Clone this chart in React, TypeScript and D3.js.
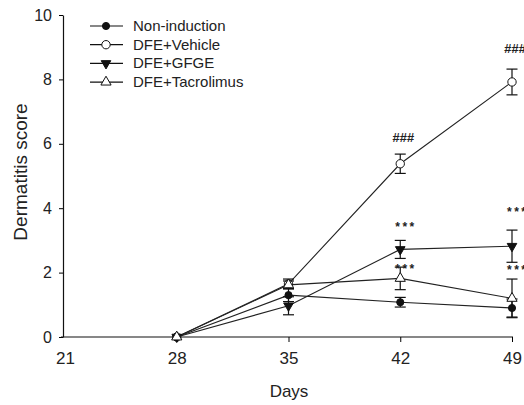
import { useRef, useEffect } from "react";
import * as d3 from "d3";

const days = [28, 35, 42, 49];
const seriesNames = ["Non-induction", "DFE+Vehicle", "DFE+GFGE", "DFE+Tacrolimus"];
const nonInduction = [0, 1.3, 1.08, 0.9];
const nonInductionErr = [0, 0.2, 0.15, 0.28];
const vehicle = [0, 1.65, 5.38, 7.92];
const vehicleErr = [0, 0.15, 0.3, 0.4];
const gfge = [0, 0.97, 2.72, 2.82];
const gfgeErr = [0, 0.28, 0.28, 0.5];
const tacrolimus = [0, 1.62, 1.82, 1.2];
const tacrolimusErr = [0, 0.12, 0.35, 0.6];
const xTicks = [21, 28, 35, 42, 49];
const yTicks = [0, 2, 4, 6, 8, 10];
const marks = [
  { day: 42, y: 6.05, text: "###" },
  { day: 49, y: 8.82, text: "###" },
  { day: 42, y: 3.3, text: "***" },
  { day: 49, y: 3.75, text: "***" },
  { day: 42, y: 2.0, text: "***" },
  { day: 49, y: 1.95, text: "***" },
];

export default function App() {
  const svgRef = useRef<SVGSVGElement | null>(null);

  useEffect(() => {
    const svg = d3.select(svgRef.current);
    svg.selectAll("*").remove();
    const font = "'Liberation Sans', Arial, sans-serif";

    const x = d3.scaleLinear().domain([21, 49]).range([65, 512]);
    const y = d3.scaleLinear().domain([0, 10]).range([337, 15]);

    const g = svg.append("g");

    // axes
    const yAxis = g.append("g").attr("transform", "translate(63,0)").call(
      d3.axisLeft(y).tickValues(yTicks).tickSize(4).tickSizeOuter(0)
    );
    yAxis.selectAll("text").attr("font-size", 16).attr("font-family", font).attr("fill", "#222").attr("dx", -4);
    const xAxis = g.append("g").attr("transform", "translate(0,337)").call(
      d3.axisBottom(x).tickValues(xTicks).tickSize(5).tickSizeOuter(0)
    );
    xAxis.selectAll("text").attr("font-size", 17).attr("font-family", font).attr("fill", "#222").attr("dy", 19);
    xAxis.selectAll(".tick").filter((d: any) => d === 21).select("line").remove();
    xAxis.select(".domain").attr("d", "M61,0H513");
    g.selectAll(".domain").attr("stroke", "#111").attr("stroke-width", 1.2);

    const series = [
      { name: seriesNames[0], vals: nonInduction, err: nonInductionErr, shape: d3.symbolCircle, fill: "#111", size: 40 },
      { name: seriesNames[1], vals: vehicle, err: vehicleErr, shape: d3.symbolCircle, fill: "#fff", size: 55 },
      { name: seriesNames[2], vals: gfge, err: gfgeErr, shape: d3.symbolTriangle, fill: "#111", size: 40, flip: true },
      { name: seriesNames[3], vals: tacrolimus, err: tacrolimusErr, shape: d3.symbolTriangle, fill: "#fff", size: 45 },
    ];

    const line = d3.line<number>().x((_, i) => x(days[i])).y((d) => y(d));

    series.forEach((s) => {
      g.append("path").datum(s.vals).attr("fill", "none").attr("stroke", "#222").attr("stroke-width", 1.1).attr("d", line);
    });

    series.forEach((s) => {
      s.vals.forEach((v, i) => {
        const e = s.err[i];
        if (e > 0) {
          const cx = x(days[i]);
          const eb = g.append("g").attr("stroke", "#111").attr("stroke-width", 1.2);
          eb.append("line").attr("x1", cx).attr("x2", cx).attr("y1", y(v - e)).attr("y2", y(v + e));
          eb.append("line").attr("x1", cx - 5.5).attr("x2", cx + 5.5).attr("y1", y(v - e)).attr("y2", y(v - e));
          eb.append("line").attr("x1", cx - 5.5).attr("x2", cx + 5.5).attr("y1", y(v + e)).attr("y2", y(v + e));
        }
        g.append("path")
          .attr("d", d3.symbol().type(s.shape).size(s.size)())
          .attr("transform", `translate(${x(days[i])},${y(v)})${s.flip ? " rotate(180)" : ""}`)
          .attr("fill", s.fill)
          .attr("stroke", "#111")
          .attr("stroke-width", 1);
      });
    });

    marks.forEach((m) => {
      const hash = m.text === "###";
      g.append("text")
        .attr("x", x(m.day) - (hash ? 8 : 5))
        .attr("y", y(m.y))
        .attr("font-family", font)
        .attr("font-size", hash ? 13 : 12)
        .attr("font-weight", "bold")
        .attr("font-style", hash ? "italic" : "normal")
        .attr("letter-spacing", hash ? 0 : 2.5)
        .attr("fill", "#222")
        .text(m.text);
    });

    // legend
    const legend = g.append("g").attr("transform", "translate(90,26)");
    series.forEach((s, i) => {
      const row = legend.append("g").attr("transform", `translate(0,${i * 18.7})`);
      row.append("line").attr("x1", 0).attr("x2", 33).attr("stroke", "#111").attr("stroke-width", 1.2);
      row.append("path")
        .attr("d", d3.symbol().type(s.shape).size(s.size)())
        .attr("transform", `translate(16,0)${s.flip ? " rotate(180)" : ""}`)
        .attr("fill", s.fill)
        .attr("stroke", "#111");
      row.append("text")
        .attr("x", 43)
        .attr("y", 5)
        .attr("font-family", font)
        .attr("font-size", 15)
        .attr("fill", "#222")
        .text(s.name);
    });

    svg.append("text")
      .attr("transform", "translate(27,172) rotate(-90)")
      .attr("text-anchor", "middle")
      .attr("font-family", font)
      .attr("font-size", 19)
      .attr("fill", "#222")
      .text("Dermatitis score");
    svg.append("text")
      .attr("x", 289)
      .attr("y", 397)
      .attr("text-anchor", "middle")
      .attr("font-family", font)
      .attr("font-size", 17)
      .attr("fill", "#222")
      .text("Days");
  }, []);

  return (
    <div style={{ position: "absolute", left: 0, top: 0, width: 524, height: 405, background: "#fff" }}>
      <svg ref={svgRef} width={524} height={405} />
    </div>
  );
}
